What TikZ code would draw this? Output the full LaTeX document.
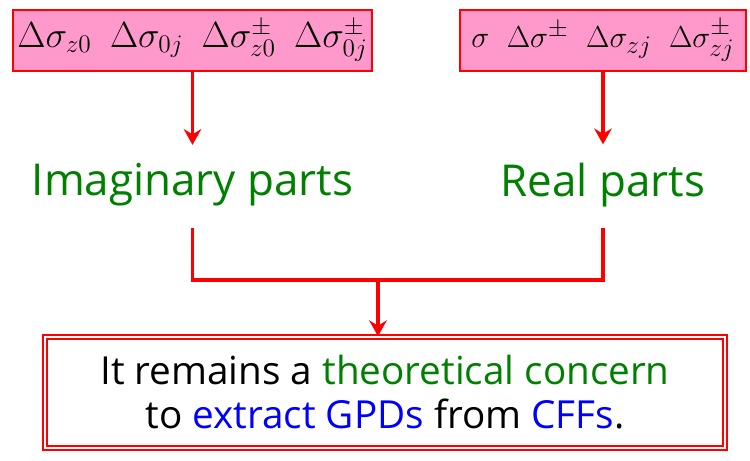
\documentclass[tikz,border=0pt]{standalone}
\usepackage{fontspec}
\setmainfont{Open Sans}
\usetikzlibrary{arrows.meta,calc}
\definecolor{boxpink}{RGB}{255,153,204}
\definecolor{partgreen}{RGB}{0,128,0}
\tikzset{
  link/.style={red,line width=2pt,-{Stealth[length=9pt,width=10pt,inset=3pt]}},
  bar/.style={red,line width=2pt},
  sigbox/.style={draw=red,line width=1.5pt,fill=boxpink,minimum height=1.22cm,inner sep=0pt},
  part/.style={text=partgreen,font=\fontsize{25}{29}\selectfont}
}

\begin{document}
\begin{tikzpicture}
  \useasboundingbox (0,0) rectangle (15,-9.22);
  % measured cross sections
  \node[sigbox,minimum width=7.18cm] (imagbox) at (3.85,-0.81)
    {\fontsize{20}{24}\selectfont$\Delta\sigma_{z0}\ \ \Delta\sigma_{0j}\ \ \Delta\sigma^{\pm}_{z0}\ \ \Delta\sigma^{\pm}_{0j}$};
  \node[sigbox,minimum width=5.72cm] (realbox) at (12.06,-0.81)
    {\fontsize{19}{23}\selectfont$\sigma\ \ \Delta\sigma^{\pm}\ \ \Delta\sigma_{zj}\ \ \Delta\sigma^{\pm}_{zj}$};
  % parts
  \node[part] (imag) at (3.85,-3.7) {Imaginary parts};
  \node[part] (real) at (12.06,-3.7) {Real parts};
  \draw[link] (imagbox.south) -- ($(imag.north)+(0,0.25)$);
  \draw[link] (realbox.south) -- ($(real.north)+(0,0.25)$);
  % conclusion
  \node[draw=red,double=white,line width=0.9pt,double distance=1.6pt,
        minimum width=13.6cm,minimum height=2.22cm,align=center,
        font=\fontsize{22}{25}\selectfont] (concern) at (7.7,-7.85)
    {It remains a \textcolor{partgreen}{theoretical concern}\\
     to \textcolor{blue}{extract GPDs} from \textcolor{blue}{CFFs}.};
  \coordinate (join) at (7.56,-5.6);
  \draw[bar] ($(imag.south)+(0,-0.3)$) |- (join);
  \draw[bar] ($(real.south)+(0,-0.3)$) |- (join);
  \draw[link] (join) -- (join |- concern.north);
\end{tikzpicture}
\end{document}
